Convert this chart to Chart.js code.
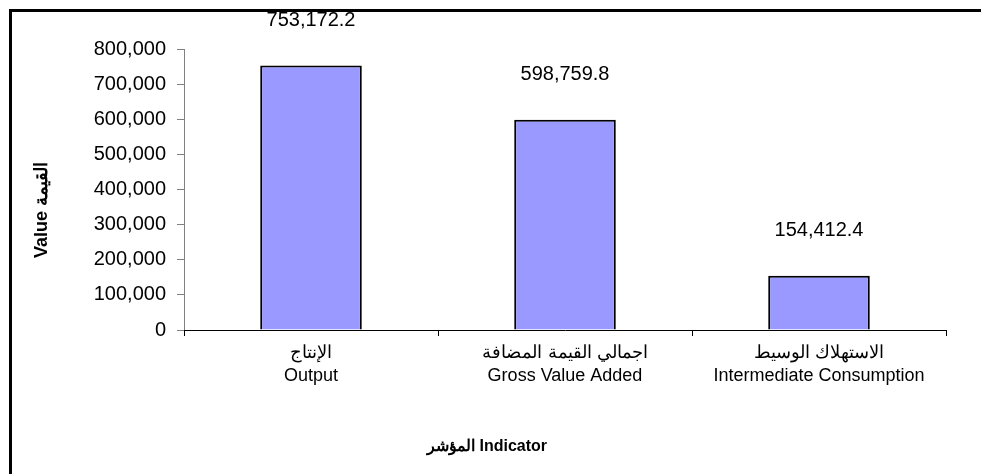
<!DOCTYPE html>
<html>
<head>
<meta charset="utf-8">
<script src="https://cdn.jsdelivr.net/npm/chart.js@4.4.1/dist/chart.umd.min.js"></script>
<style>
html,body{margin:0;padding:0;background:#fff;width:981px;height:474px;overflow:hidden;}
#frame{position:absolute;left:9px;top:9px;width:1000px;height:520px;border:3px solid #000;box-sizing:border-box;}
#wrap{position:absolute;left:0;top:0;width:981px;height:474px;}
</style>
</head>
<body>
<div id="frame"></div>
<div id="wrap"><canvas id="c" width="981" height="474"></canvas></div>
<script>
const categoriesAr = ['الإنتاج', 'اجمالي القيمة المضافة', 'الاستهلاك الوسيط'];
const categoriesEn = ['Output', 'Gross Value Added', 'Intermediate Consumption'];
const values = [753172.2, 598759.8, 154412.4];
const yMin = 0, yMax = 800000, yStep = 100000;
const yTitle = 'Value القيمة';
const xTitle = 'المؤشر Indicator';

const FONT = "'Liberation Sans', Arial, sans-serif";

const labelPlugin = {
  id: 'labelsAndTitles',
  afterDatasetsDraw(chart) {
    const ctx = chart.ctx;
    const meta = chart.getDatasetMeta(0);
    ctx.save();
    ctx.fillStyle = '#000';
    ctx.font = '20px ' + FONT;
    ctx.textAlign = 'center';
    ctx.textBaseline = 'middle';
    meta.data.forEach((bar, i) => {
      const v = chart.data.datasets[0].data[i];
      const txt = v.toLocaleString('en-US', {minimumFractionDigits: 1, maximumFractionDigits: 1});
      ctx.fillText(txt, bar.x, bar.y - 45);
    });
    ctx.restore();
  },
  afterDraw(chart) {
    const ctx = chart.ctx;
    ctx.save();
    ctx.fillStyle = '#000';
    ctx.font = 'bold 18px ' + FONT;
    ctx.textAlign = 'center';
    ctx.textBaseline = 'middle';
    ctx.translate(42, 210);
    ctx.rotate(-Math.PI / 2);
    ctx.fillText(yTitle, 0, 0);
    ctx.restore();
    ctx.save();
    ctx.fillStyle = '#000';
    ctx.font = 'bold 16px ' + FONT;
    ctx.textAlign = 'center';
    ctx.textBaseline = 'middle';
    ctx.fillText(xTitle, 487, 447);
    ctx.restore();
  }
};

new Chart(document.getElementById('c'), {
  type: 'bar',
  data: {
    labels: categoriesAr.map((a, i) => [a, categoriesEn[i]]),
    datasets: [{
      data: values,
      backgroundColor: '#9999FF',
      borderColor: '#000000',
      borderWidth: 2,
      borderSkipped: 'bottom',
      categoryPercentage: 1,
      barPercentage: 0.4
    }]
  },
  options: {
    responsive: false,
    animation: false,
    devicePixelRatio: 1,
    layout: { padding: { left: 0, top: 49, right: 35, bottom: 0 } },
    plugins: { legend: { display: false }, tooltip: { enabled: false }, title: { display: false } },
    scales: {
      y: {
        min: yMin, max: yMax,
        afterFit(s) { s.width = 184; },
        border: { display: true, color: '#808080', width: 1 },
        grid: { display: true, drawOnChartArea: false, drawTicks: true, tickLength: 7, color: '#808080' },
        ticks: {
          stepSize: yStep,
          padding: 11,
          color: '#000',
          font: { family: FONT, size: 20 },
          callback: v => v.toLocaleString('en-US')
        }
      },
      x: {
        afterFit(s) { s.height = 144; },
        border: { display: true, color: '#000', width: 1 },
        grid: { display: true, offset: true, drawOnChartArea: false, drawTicks: true, tickLength: 6, color: '#000' },
        ticks: {
          padding: 6,
          color: '#000',
          maxRotation: 0,
          autoSkip: false,
          font: { family: FONT, size: 18, lineHeight: 1.25 }
        }
      }
    }
  },
  plugins: [labelPlugin]
});
</script>
</body>
</html>
